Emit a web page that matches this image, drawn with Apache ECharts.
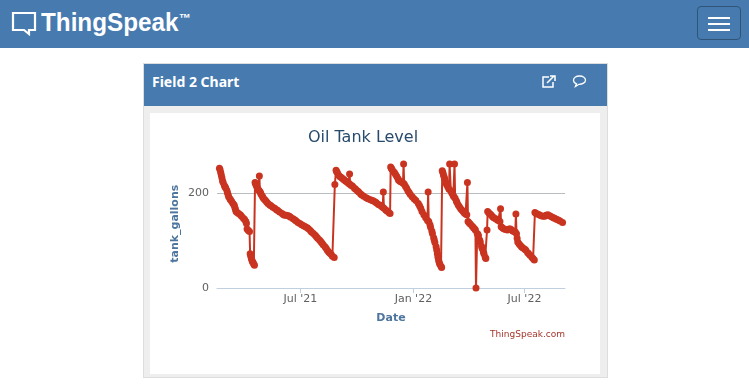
<!DOCTYPE html>
<html><head><meta charset="utf-8">
<script src="https://cdn.jsdelivr.net/npm/echarts@6/dist/echarts.min.js"></script>
<style>
html,body{margin:0;padding:0;width:749px;height:390px;overflow:hidden;background:#fff}
.a{position:absolute;box-sizing:border-box}
#nav{left:0;top:0;width:749px;height:48px;background:#477bb0}
#logo{left:41px;top:8px;font:bold 25px "Liberation Sans",sans-serif;color:#fff;transform-origin:0 0;transform:scaleX(.97);white-space:nowrap}
#tm{left:179px;top:11px;font:bold 12px "Liberation Sans",sans-serif;color:#fff}
#burger{left:697px;top:6px;width:44px;height:34px;border:1px solid #2f5478;border-radius:4px;background:#477bb0}
#burger i{position:absolute;left:10px;width:22px;height:2px;background:#fff}
#panel{left:143px;top:63px;width:465px;height:315px;background:#eee;border:1px solid #ddd}
#phead{left:144px;top:64px;width:463px;height:42px;background:#477bb0}
#ptitle{left:152px;top:72px;font:bold 14px "Noto Sans",sans-serif;color:#fff;white-space:nowrap}
#white{left:150px;top:113px;width:450px;height:261px;background:#fff}
#chart{left:0;top:0;width:749px;height:390px}
</style></head><body>
<div class="a" id="nav"></div>
<svg class="a" style="left:11px;top:11px" width="26" height="25" viewBox="0 0 26 25"><path d="M2 2H24V19H18V23L13 19H2Z" fill="none" stroke="#fff" stroke-width="2.2"/></svg>
<div class="a" id="logo">ThingSpeak</div><div class="a" id="tm">™</div>
<div class="a" id="burger"><i style="top:10px"></i><i style="top:16px"></i><i style="top:22px"></i></div>
<div class="a" id="panel"></div><div class="a" id="phead"></div>
<div class="a" id="ptitle">Field 2 Chart</div>
<svg class="a" style="left:541px;top:74px" width="16" height="16" viewBox="0 0 16 16" fill="none" stroke="#fff" stroke-width="1.5"><path d="M8 3H2V13H12V8"/><path d="M6 9L13 2M9 2H14V7"/></svg>
<svg class="a" style="left:572px;top:74px" width="15" height="15" viewBox="0 0 15 15" fill="none" stroke="#fff" stroke-width="1.3"><path d="M7.5 2C4 2 1.5 3.8 1.5 6.2C1.5 8 3 9.2 4.5 9.8L3.5 12.5L7 10.3C10.5 10.3 13.5 8.5 13.5 6.2C13.5 3.8 11 2 7.5 2Z"/></svg>
<div class="a" id="white"></div>
<div class="a" id="chart"></div>
<script>
var chartTitle = 'Oil Tank Level';
var xAxisName = 'Date';
var yAxisName = 'tank_gallons';
var creditText = 'ThingSpeak.com';
var xTickDates = ['2021-07-01','2022-01-01','2022-07-01'];
var xTickLabels = ["Jul '21","Jan '22","Jul '22"];
var cycle1 = [['2021-02-19',252],['2021-02-20',249],['2021-02-21',243],['2021-02-22',238],['2021-02-23',232],['2021-02-24',226],['2021-02-25',222],['2021-02-27',216],['2021-02-28',213],['2021-03-01',211],['2021-03-03',206],['2021-03-04',201],['2021-03-05',197],['2021-03-06',192],['2021-03-08',188],['2021-03-09',186],['2021-03-11',182],['2021-03-13',178],['2021-03-15',175],['2021-03-16',170],['2021-03-17',166],['2021-03-18',161],['2021-03-20',159],['2021-03-22',157],['2021-03-25',154],['2021-03-27',151],['2021-03-30',147],['2021-04-01',144],['2021-04-03',140],['2021-04-04',136],['2021-04-05',124],['2021-04-07',121],['2021-04-09',119],['2021-04-10',72],['2021-04-11',67],['2021-04-12',62],['2021-04-13',58],['2021-04-14',55],['2021-04-15',53],['2021-04-16',50],['2021-04-17',48]];
var cycle2 = [['2021-04-18',222],['2021-04-19',219],['2021-04-20',216],['2021-04-21',213],['2021-04-23',208],['2021-04-24',206],['2021-04-25',236],['2021-04-26',203],['2021-04-27',200],['2021-04-28',197],['2021-04-30',193],['2021-05-01',190],['2021-05-03',187],['2021-05-05',184],['2021-05-07',181],['2021-05-09',178],['2021-05-12',175],['2021-05-14',173],['2021-05-17',170],['2021-05-20',168],['2021-05-23',165],['2021-05-25',163],['2021-05-28',160],['2021-06-01',157],['2021-06-03',155],['2021-06-05',153],['2021-06-08',153],['2021-06-11',152],['2021-06-13',151],['2021-06-15',149],['2021-06-19',146],['2021-06-22',143],['2021-06-24',141],['2021-06-27',138],['2021-06-30',136],['2021-07-03',133],['2021-07-06',131],['2021-07-09',129],['2021-07-12',127],['2021-07-14',125],['2021-07-17',121],['2021-07-19',118],['2021-07-22',115],['2021-07-25',111],['2021-07-27',108],['2021-07-29',105],['2021-08-01',101],['2021-08-03',98],['2021-08-05',95],['2021-08-07',91],['2021-08-10',87],['2021-08-12',83],['2021-08-14',79],['2021-08-16',76],['2021-08-18',73],['2021-08-20',71],['2021-08-22',67],['2021-08-25',64]];
var cycle3 = [['2021-08-26',218],['2021-08-28',248],['2021-08-29',245],['2021-08-30',243],['2021-09-01',238],['2021-09-03',235],['2021-09-05',233],['2021-09-07',231],['2021-09-09',229],['2021-09-11',227],['2021-09-13',225],['2021-09-15',223],['2021-09-17',221],['2021-09-18',220],['2021-09-19',240],['2021-09-20',218],['2021-09-22',216],['2021-09-24',214],['2021-09-27',210],['2021-09-29',208],['2021-10-02',204],['2021-10-04',202],['2021-10-07',198],['2021-10-09',196],['2021-10-12',193],['2021-10-16',190],['2021-10-19',188],['2021-10-23',186],['2021-10-26',184],['2021-10-28',183],['2021-10-31',181],['2021-11-02',179],['2021-11-05',176],['2021-11-08',174],['2021-11-10',172],['2021-11-12',170],['2021-11-13',202],['2021-11-14',168],['2021-11-17',164],['2021-11-19',162],['2021-11-22',159],['2021-11-24',157]];
var cycle4 = [['2021-11-25',255],['2021-11-26',252],['2021-11-27',250],['2021-11-29',246],['2021-12-01',243],['2021-12-03',239],['2021-12-05',235],['2021-12-07',230],['2021-12-08',227],['2021-12-10',225],['2021-12-12',223],['2021-12-15',221],['2021-12-16',261],['2021-12-17',219],['2021-12-19',214],['2021-12-21',210],['2021-12-23',205],['2021-12-25',201],['2021-12-27',197],['2021-12-30',192],['2022-01-02',188],['2022-01-05',184],['2022-01-09',178],['2022-01-11',173],['2022-01-13',168],['2022-01-15',161],['2022-01-18',154],['2022-01-21',148],['2022-01-24',142],['2022-01-25',202],['2022-01-26',140],['2022-01-28',133],['2022-01-29',128],['2022-01-31',120],['2022-02-01',115],['2022-02-03',106],['2022-02-04',101],['2022-02-05',96],['2022-02-07',87],['2022-02-08',80],['2022-02-09',72],['2022-02-10',65],['2022-02-11',59],['2022-02-12',54],['2022-02-13',50],['2022-02-15',46],['2022-02-16',43]];
var cycle5 = [['2022-02-17',247],['2022-02-18',243],['2022-02-19',238],['2022-02-20',234],['2022-02-21',230],['2022-02-23',222],['2022-02-24',218],['2022-02-26',213],['2022-02-28',208],['2022-03-01',261],['2022-03-03',205],['2022-03-04',202],['2022-03-05',199],['2022-03-07',194],['2022-03-08',192],['2022-03-09',261],['2022-03-10',189],['2022-03-12',183],['2022-03-13',180],['2022-03-15',175],['2022-03-17',171],['2022-03-19',167],['2022-03-21',164],['2022-03-23',161],['2022-03-25',158],['2022-03-27',156],['2022-03-29',154],['2022-03-30',222],['2022-03-31',140],['2022-04-02',137],['2022-04-04',134],['2022-04-07',130],['2022-04-09',127],['2022-04-11',124],['2022-04-12',122],['2022-04-13',0],['2022-04-15',115],['2022-04-16',113],['2022-04-17',110],['2022-04-19',101],['2022-04-20',97],['2022-04-22',88],['2022-04-23',83],['2022-04-25',76],['2022-04-26',72],['2022-04-28',65],['2022-04-29',62]];
var cycle6 = [['2022-05-01',122],['2022-05-02',161],['2022-05-04',158],['2022-05-06',156],['2022-05-08',153],['2022-05-10',150],['2022-05-12',148],['2022-05-15',146],['2022-05-17',144],['2022-05-19',142],['2022-05-22',140],['2022-05-23',167],['2022-05-24',129],['2022-05-26',127],['2022-05-28',125],['2022-05-31',123],['2022-06-03',122],['2022-06-06',124],['2022-06-08',124],['2022-06-10',122],['2022-06-12',120],['2022-06-14',119],['2022-06-16',118],['2022-06-17',156],['2022-06-18',114],['2022-06-19',105],['2022-06-20',97],['2022-06-22',93],['2022-06-24',90],['2022-06-26',87],['2022-06-28',85],['2022-07-01',82],['2022-07-03',80],['2022-07-06',75],['2022-07-08',72],['2022-07-10',69],['2022-07-13',65],['2022-07-15',62],['2022-07-17',59]];
var cycle7 = [['2022-07-18',159],['2022-07-20',157],['2022-07-22',156],['2022-07-25',154],['2022-07-28',152],['2022-07-31',151],['2022-08-03',151],['2022-08-05',153],['2022-08-08',154],['2022-08-11',152],['2022-08-14',150],['2022-08-17',148],['2022-08-19',147],['2022-08-22',145],['2022-08-25',143],['2022-08-28',141],['2022-09-01',138]];
function ts(d){return Date.UTC(+d.slice(0,4),+d.slice(5,7)-1,+d.slice(8,10));}
var points = [].concat(cycle1,cycle2,cycle3,cycle4,cycle5,cycle6,cycle7).map(function(p){return [ts(p[0]),p[1]];});
var tickValues = xTickDates.map(ts);
var chart = echarts.init(document.getElementById('chart'),null,{renderer:'canvas'});
chart.setOption({
 animation:false,
 backgroundColor:'transparent',
 title:{text:chartTitle,left:358,top:125,textAlign:'center',textStyle:{fontFamily:'DejaVu Sans',fontSize:16,fontWeight:'normal',color:'#274b6d'}},
 grid:{left:217,right:184,top:145.5,bottom:102,containLabel:false},
 graphic:[{type:'text',right:184,top:330,style:{text:creditText,fontFamily:'DejaVu Sans',fontSize:9,fill:'#a5352a'}}],
 xAxis:{type:'value',scale:true,
  min:ts('2021-02-15'),max:ts('2022-09-05'),
  name:xAxisName,nameLocation:'middle',nameGap:25,
  nameTextStyle:{fontFamily:'DejaVu Sans',fontSize:11,fontWeight:'bold',color:'#4d759e'},
  axisLine:{show:true,onZero:false,lineStyle:{color:'#c0d0e0',width:1}},
  axisTick:{show:true,length:5,lineStyle:{color:'#c0d0e0'},customValues:tickValues},
  splitLine:{show:false},
  axisLabel:{fontFamily:'DejaVu Sans',fontSize:11,color:'#606060',margin:6,hideOverlap:false,
   customValues:tickValues,
   formatter:function(v){var i=tickValues.indexOf(v);return i<0?'':xTickLabels[i];}}
 },
 yAxis:{type:'value',min:0,max:300,interval:200,
  name:yAxisName,nameLocation:'middle',nameGap:36,nameRotate:90,
  nameTextStyle:{fontFamily:'DejaVu Sans',fontSize:11,fontWeight:'bold',color:'#4d759e',padding:[0,14,0,0]},
  axisLine:{show:false},axisTick:{show:false},
  splitLine:{show:true,showMaxLine:false,showMinLine:false,lineStyle:{color:'#b9bdbf',width:1}},
  axisLabel:{fontFamily:'DejaVu Sans',fontSize:11,color:'#606060',margin:8,showMaxLabel:false}
 },
 series:[{name:yAxisName,type:'line',data:points,showSymbol:true,symbol:'circle',symbolSize:7,
  showAllSymbol:true,clip:false,
  lineStyle:{color:'#c93420',width:2},itemStyle:{color:'#c93420'}}]
});
</script>
</body></html>
